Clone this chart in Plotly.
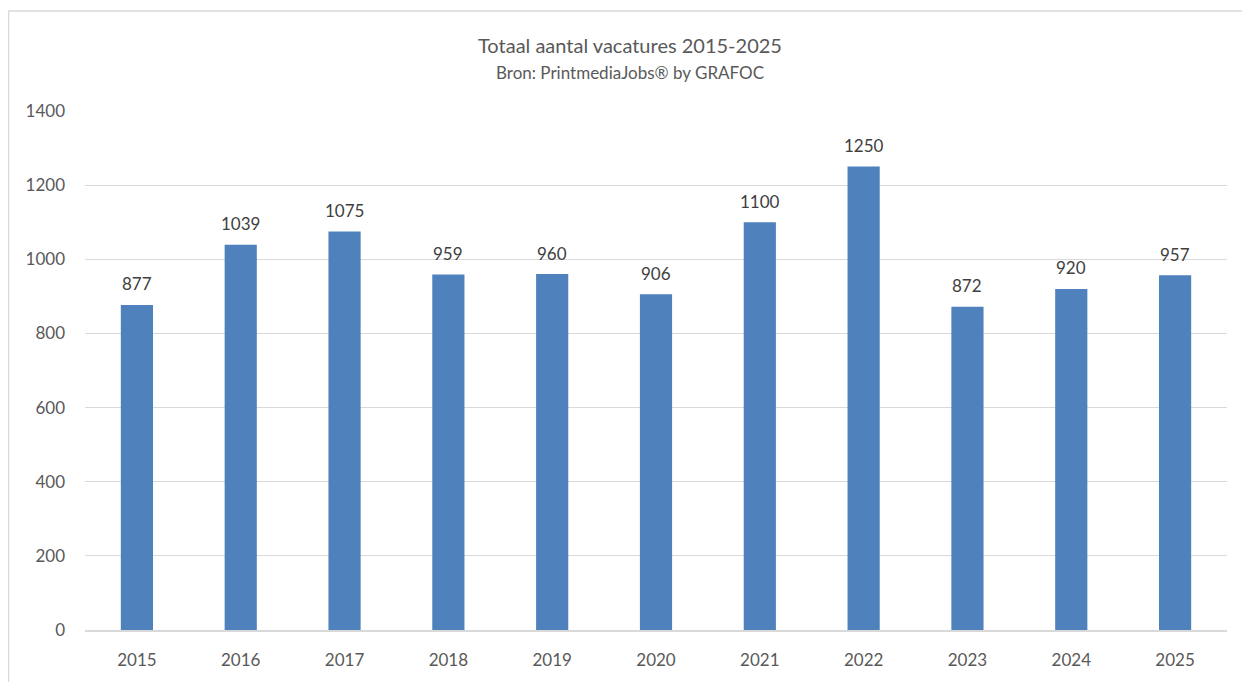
import plotly.graph_objects as go

years = ["2015", "2016", "2017", "2018", "2019", "2020", "2021", "2022", "2023", "2024", "2025"]
vacatures = [877, 1039, 1075, 959, 960, 906, 1100, 1250, 872, 920, 957]
y_ticks = [0, 200, 400, 600, 800, 1000, 1200, 1400]

# page has an 8px body margin; figure pixel = page pixel - OFF
OFF = 8
W, H = 1250 - OFF, 682 - OFF
ML, MR, MT, MB = 85 - OFF, 23, 111 - OFF, 49
PW, PH = W - ML - MR, H - MT - MB
FONT = "Lato, Carlito, Calibri, sans-serif"

def px_x(p):
    return (p - OFF - ML) / PW

def px_y(p):
    return (H - MB - (p - OFF)) / PH

fig = go.Figure()
fig.add_trace(go.Bar(
    x=years, y=vacatures,
    marker=dict(color="#4F81BD", line=dict(width=0)),
    hoverinfo="x+y",
))

annotations = [
    dict(x=i, y=v, xref="x", yref="y", text=str(v), showarrow=False,
         xanchor="center", yanchor="middle", yshift=21,
         font=dict(family=FONT, size=17, color="#404040"))
    for i, v in enumerate(vacatures)
]
annotations += [
    dict(text="Totaal aantal vacatures 2015-2025", xref="paper", yref="paper",
         x=px_x(630), y=px_y(45), xanchor="center", yanchor="middle",
         showarrow=False, font=dict(family=FONT, size=20, color="#595959")),
    dict(text="Bron: PrintmediaJobs® by GRAFOC", xref="paper", yref="paper",
         x=px_x(630), y=px_y(72), xanchor="center", yanchor="middle",
         showarrow=False, font=dict(family=FONT, size=17, color="#595959")),
]

fig.update_layout(
    width=W, height=H,
    margin=dict(l=ML, r=MR, t=MT, b=MB, pad=0),
    paper_bgcolor="white", plot_bgcolor="white",
    bargap=0.69,
    showlegend=False,
    font=dict(family=FONT, color="#595959"),
    xaxis=dict(
        type="category",
        categoryorder="array", categoryarray=years,
        range=[-0.5, len(years) - 0.5],
        showgrid=False,
        showline=True, linecolor="#D9D9D9", linewidth=1.5,
        ticks="", tickfont=dict(size=17, color="#595959"),
        ticklabelstandoff=14,
    ),
    yaxis=dict(
        range=[0, 1400],
        tickvals=y_ticks,
        showgrid=True, gridcolor="#D9D9D9", gridwidth=1,
        zeroline=False, showline=False,
        ticks="", tickfont=dict(size=17, color="#595959"),
        ticklabelstandoff=19,
    ),
    annotations=annotations,
    shapes=[
        dict(type="line", xref="paper", yref="paper",
             x0=px_x(8), x1=px_x(1260), y0=px_y(10.5), y1=px_y(10.5),
             line=dict(color="#D9D9D9", width=1.5)),
        dict(type="line", xref="paper", yref="paper",
             x0=px_x(8.5), x1=px_x(8.5), y0=px_y(10.5), y1=px_y(690),
             line=dict(color="#D9D9D9", width=1.5)),
    ],
)

fig.write_html("out.html")
